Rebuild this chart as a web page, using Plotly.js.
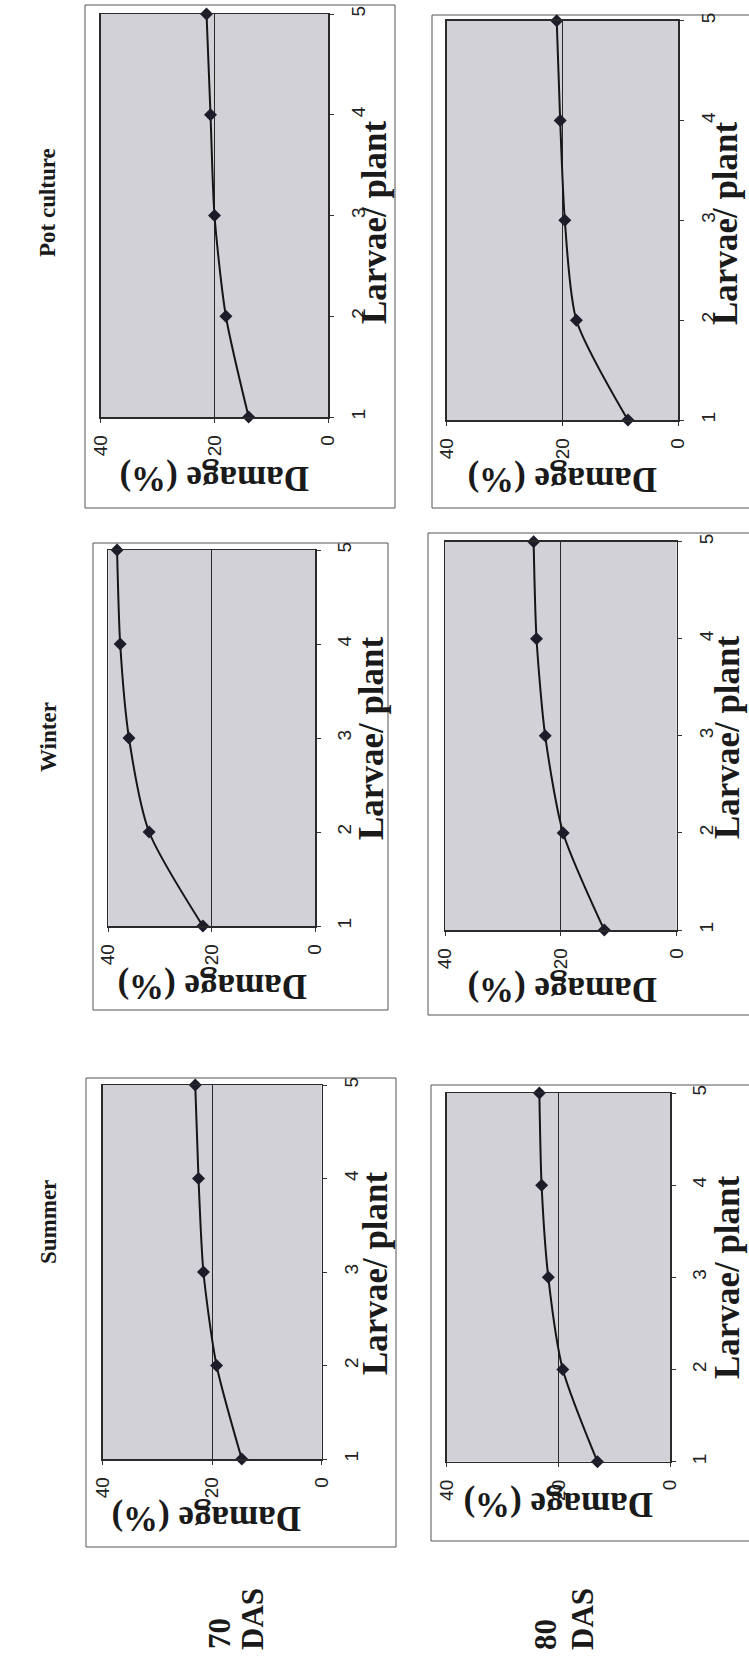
<!DOCTYPE html>
<html><head><meta charset="utf-8">
<script src="https://cdn.plot.ly/plotly-3.0.1.min.js"></script>
<style>html,body{margin:0;padding:0;background:#fff;} #chart{width:749px;height:1658px;}</style>
</head><body><div id="chart"></div>
<script>
// ---- data ----
const larvae = [1, 2, 3, 4, 5];
const summer70 = [14.6, 19.2, 21.6, 22.5, 23.1];
const summer80 = [13.0, 19.2, 21.8, 23.0, 23.4];
const winter70 = [21.7, 32.1, 36.0, 37.7, 38.3];
const winter80 = [12.5, 19.6, 22.7, 24.2, 24.7];
const pot70 = [14.0, 18.0, 20.0, 20.7, 21.4];
const pot80 = [8.7, 17.6, 19.6, 20.4, 21.0];
const damageTicks = [0, 20, 40];
const seasons = ['Summer', 'Winter', 'Pot culture'];
const stageNums = ['70', '80'];
const stageUnit = 'DAS';
const xTitle = 'Larvae/ plant';
const yTitle = 'Damage (%)';

// ---- layout (page pixels) ----
const W = 749, H = 1658;
const fx = v => v / W;
const fy = v => 1 - v / H;
const panels = [
  {vals: pot70,    plot: [100.7, 328.3, 14, 417],   box: [85, 395, 5, 508],     dmg: [214, 478],   lar: [374, 222]},
  {vals: pot80,    plot: [446.7, 678.3, 20.7, 420], box: [432, 760, 15, 508],   dmg: [562, 480],   lar: [726, 223]},
  {vals: winter70, plot: [108.3, 315, 550, 926],    box: [93, 388, 543, 1010],  dmg: [212, 987],   lar: [371, 738]},
  {vals: winter80, plot: [445, 676.7, 541.7, 930],  box: [428, 760, 533, 1015], dmg: [562, 990],   lar: [727, 737]},
  {vals: summer70, plot: [102.7, 321.7, 1085, 1459],box: [86, 396, 1078, 1547], dmg: [206, 1519],  lar: [375, 1273]},
  {vals: summer80, plot: [446.7, 670, 1093, 1461.7],box: [431, 760, 1085, 1541],dmg: [558, 1505],  lar: [727, 1277]}
];
const headerPos = [[48, 1222], [48, 737], [48, 203]];
const rowPos = [[219, 1634, 252, 1619], [545, 1635, 582, 1619]];

const tickFont = {family: 'Liberation Sans, Arial, sans-serif', size: 19, color: '#222'};
const serifBold = size => ({family: 'Liberation Serif, Times New Roman, serif', size: size, color: '#1a1a1a', weight: 'bold'});

const traces = [];
const layout = {
  width: W, height: H, autosize: false,
  margin: {l: 0, r: 0, t: 0, b: 0},
  paper_bgcolor: '#ffffff',
  plot_bgcolor: '#d1d1d7',
  showlegend: false,
  shapes: [], annotations: []
};

panels.forEach((p, k) => {
  const i = k + 1;
  const xa = 'xaxis' + i, ya = 'yaxis' + i;
  traces.push({
    x: p.vals, y: larvae,
    xaxis: 'x' + i, yaxis: 'y' + i,
    type: 'scatter', mode: 'lines+markers', cliponaxis: false,
    line: {shape: 'spline', smoothing: 0.7, color: '#151515', width: 2},
    marker: {symbol: 'diamond', size: 10, color: '#1c1c2a'},
    hoverinfo: 'skip'
  });
  layout[xa] = {
    domain: [fx(p.plot[0]), fx(p.plot[1])],
    anchor: 'y' + i, side: 'bottom',
    range: [40, 0], tickvals: damageTicks, tickangle: -90,
    ticks: 'outside', ticklen: 4, tickcolor: '#333', ticklabelstandoff: 5,
    showline: true, mirror: true, linecolor: '#2a2a2a', linewidth: 1.5,
    showgrid: true, gridcolor: '#2a2a2a', gridwidth: 1, zeroline: false,
    tickfont: tickFont, fixedrange: true
  };
  layout[ya] = {
    domain: [fy(p.plot[3]), fy(p.plot[2])],
    anchor: 'x' + i, side: 'right',
    range: [1, 5], tickvals: larvae, tickangle: -90,
    ticks: 'outside', ticklen: 4, tickcolor: '#333', ticklabelstandoff: 8,
    showline: true, mirror: true, linecolor: '#2a2a2a', linewidth: 1.5,
    showgrid: false, zeroline: false,
    tickfont: tickFont, fixedrange: true
  };
  layout.shapes.push({
    type: 'rect', xref: 'paper', yref: 'paper',
    x0: fx(p.box[0]), x1: fx(p.box[1]), y0: fy(p.box[3]), y1: fy(p.box[2]),
    line: {color: '#555', width: 1}, fillcolor: 'rgba(0,0,0,0)', layer: 'below'
  });
  layout.annotations.push({
    text: yTitle, xref: 'paper', yref: 'paper', x: fx(p.dmg[0]), y: fy(p.dmg[1]),
    xanchor: 'center', yanchor: 'middle', textangle: 180, showarrow: false,
    font: serifBold(35)
  });
  layout.annotations.push({
    text: xTitle, xref: 'paper', yref: 'paper', x: fx(p.lar[0]), y: fy(p.lar[1]),
    xanchor: 'center', yanchor: 'middle', textangle: -90, showarrow: false,
    font: serifBold(35)
  });
});

seasons.forEach((s, k) => {
  layout.annotations.push({
    text: s, xref: 'paper', yref: 'paper', x: fx(headerPos[k][0]), y: fy(headerPos[k][1]),
    xanchor: 'center', yanchor: 'middle', textangle: -90, showarrow: false,
    font: serifBold(23)
  });
});
stageNums.forEach((n, k) => {
  const r = rowPos[k];
  layout.annotations.push({
    text: n, xref: 'paper', yref: 'paper', x: fx(r[0]), y: fy(r[1]),
    xanchor: 'center', yanchor: 'middle', textangle: -90, showarrow: false,
    font: serifBold(31)
  });
  layout.annotations.push({
    text: stageUnit, xref: 'paper', yref: 'paper', x: fx(r[2]), y: fy(r[3]),
    xanchor: 'center', yanchor: 'middle', textangle: -90, showarrow: false,
    font: serifBold(31)
  });
});

Plotly.newPlot('chart', traces, layout, {staticPlot: true, displayModeBar: false});
</script>
</body></html>
